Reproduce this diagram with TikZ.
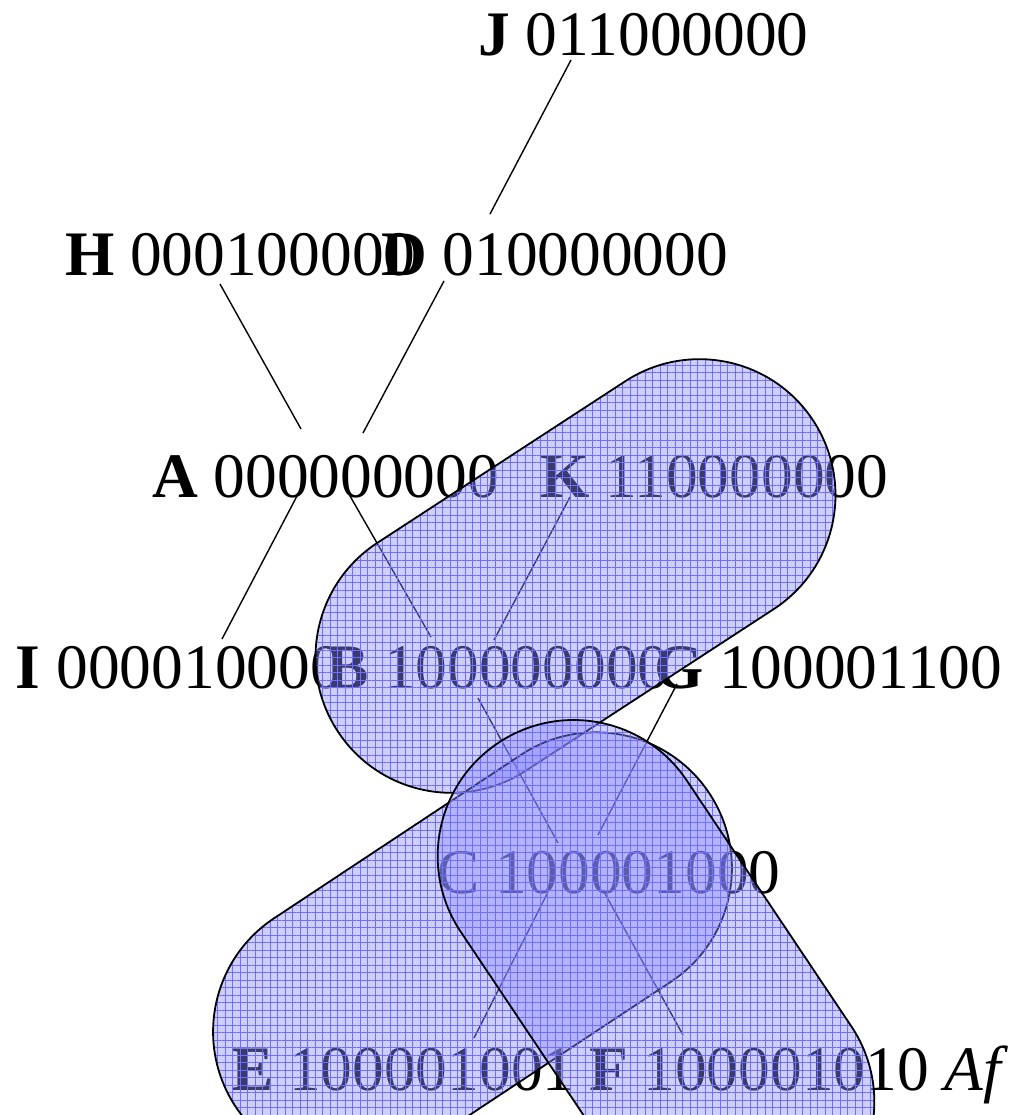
\documentclass[tikz,border=0pt]{standalone}
\usepackage{fontspec}
\setmainfont{Liberation Serif}
\usetikzlibrary{calc,shapes.misc,patterns.meta}
\definecolor{blobfill}{RGB}{140,140,255}
\definecolor{blobgrid}{RGB}{110,110,255}
\tikzset{
  lbl/.style={anchor=base west, inner sep=0pt, outer sep=0pt,
    font=\fontsize{31.7pt}{38pt}\selectfont},
  edge/.style={draw=black, line width=0.7pt},
  blob/.style={rounded rectangle, minimum width=284pt, minimum height=136pt, inner sep=0pt,
    fill=blobfill, fill opacity=0.42,
    postaction={pattern={Hatch[distance=3.75pt, angle=0, line width=0.35pt]},
      pattern color=blobgrid, fill opacity=0.12},
    postaction={draw=black, line width=0.9pt}}
}

\begin{document}
\begin{tikzpicture}[x=0.5pt, y=-0.5pt]
  \useasboundingbox (0,0) rectangle (1008,1115);
  % labels
  \node[lbl] (J) at (478,55) {\textbf{J} 011000000};
  \node[lbl] (H) at (65,275) {\textbf{H} 000100000};
  \node[lbl] (D) at (381,275) {\textbf{D} 010000000};
  \node[lbl] (A) at (152,497) {\textbf{A} 000000000};
  \node[lbl] (K) at (540,497) {\textbf{K} 110000000};
  \node[lbl] (I) at (16,688) {\textbf{I} 000010000};
  \node[lbl] (B) at (326,688) {\textbf{B} 100000000};
  \node[lbl] (G) at (654,688) {\textbf{G} 100001100};
  \node[lbl] (C) at (437,893) {C 100001000};
  \node[lbl] (E) at (231,1090) {\textbf{E} 100001001};
  \node[lbl] (F) at (589,1090) {\textbf{F} 100001010 \textit{Af}};

  % tree edges
  \draw[edge] ($(J.base west)+(93,5)$) -- ($(D.base west)+(109,-61)$);
  \draw[edge] ($(H.base west)+(155,9)$) -- ($(A.base west)+(149,-68)$);
  \draw[edge] ($(D.base west)+(63,6)$) -- ($(A.base west)+(211,-64)$);
  \draw[edge] ($(A.base west)+(145,-1)$) -- ($(I.base west)+(206,-49)$);
  \draw[edge] ($(A.base west)+(198,-1)$) -- ($(B.base west)+(105,-51)$);
  \draw[edge] ($(K.base west)+(30,0)$) -- ($(B.base west)+(168,-48)$);
  \draw[edge] ($(B.base west)+(152,10)$) -- ($(C.base west)+(121,-50)$);
  \draw[edge] ($(G.base west)+(23,-4)$) -- ($(C.base west)+(161,-58)$);
  \draw[edge] ($(C.base west)+(111,-1)$) -- ($(E.base west)+(243,-52)$);
  \draw[edge] ($(C.base west)+(166,-3)$) -- ($(F.base west)+(94,-55)$);

  % groups
  \node[blob, rotate=33.1] (upper) at (575.5,576) {};
  \node[blob, rotate=33.5] (lower) at (472.5,950) {};
  \node[blob, rotate=-56.2] (right) at (656,979) {};
\end{tikzpicture}
\end{document}
